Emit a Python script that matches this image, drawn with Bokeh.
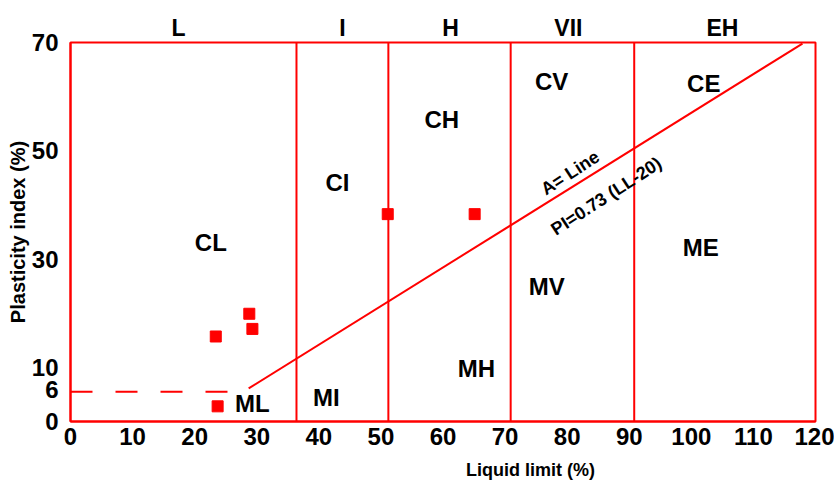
from bokeh.plotting import figure
from bokeh.models import Range1d, FixedTicker, LabelSet, ColumnDataSource, LinearAxis
from bokeh.core.properties import value
from bokeh.embed import file_html
from bokeh.resources import INLINE
import math

FONT = "Liberation Sans"
RED = "#ff0000"

# ---- data ----
x_ticks = [0, 10, 20, 30, 40, 50, 60, 70, 80, 90, 100, 110, 120]
y_ticks = [0, 6, 10, 30, 50, 70]

# sample points (liquid limit, plasticity index)
sample_ll = [23.4, 28.8, 29.3, 23.7, 51.1, 65.1]
sample_pi = [15.7, 19.9, 17.1, 2.8, 38.3, 38.3]

# boundaries between plasticity classes (liquid limit)
boundary_ll = [36.4, 51.2, 70.9, 90.8]

# A-line PI = 0.73 (LL-20)
aline_ll = [28.7, 117.9]
aline_pi = [6.1, 69.8]

# dashed line at PI ~ 6
dash_ll = [0, 25.4]
dash_pi = [5.5, 5.5]

# class labels above the chart
zone_names = ["L", "I", "H", "VII", "EH"]
zone_ll = [17.4, 43.8, 61.2, 80.2, 105.0]

# region labels
region_names = ["CL", "CI", "CH", "CV", "CE", "ML", "MI", "MH", "MV", "ME"]
region_ll = [22.6, 43.0, 59.8, 77.5, 102.0, 29.3, 41.2, 65.4, 76.7, 101.5]
region_pi = [33.0, 44.2, 55.8, 62.8, 62.4, 3.3, 4.4, 9.8, 24.9, 32.1]

# A-line annotations
aline_text = ["A= Line", "PI=0.73 (LL-20)"]
aline_text_ll = [80.5, 86.3]
aline_text_pi = [45.9, 41.6]

x_title = "Liquid limit (%)"
x_title_ll = [74.1]
y_title = "Plasticity index (%)"

# ---- figure ----
p = figure(width=834, height=482, output_backend="svg", toolbar_location=None,
           x_range=Range1d(0, 120), y_range=Range1d(0, 70),
           min_border_left=70, min_border_right=19, min_border_top=42,
           min_border_bottom=60)
p.grid.visible = False
p.background_fill_color = "white"
p.border_fill_color = "white"
p.outline_line_color = RED
p.outline_line_width = 2

def style_axis(ax, ticks, size="24px"):
    ax.ticker = FixedTicker(ticks=ticks)
    ax.major_tick_line_color = None
    ax.minor_tick_line_color = None
    ax.major_label_text_font = FONT
    ax.major_label_text_font_style = "bold"
    ax.major_label_text_font_size = size
    ax.major_label_text_color = "black"

for ax, ticks in ((p.xaxis, x_ticks), (p.yaxis, y_ticks)):
    style_axis(ax, ticks)
    ax.axis_line_color = RED
    ax.axis_line_width = 2
p.xaxis.major_label_standoff = 0
p.yaxis.major_label_standoff = 6

p.yaxis.axis_label = y_title
p.yaxis.axis_label_text_font = FONT
p.yaxis.axis_label_text_font_style = "bold"
p.yaxis.axis_label_text_font_size = "20px"
p.yaxis.axis_label_text_color = "black"
p.yaxis.axis_label_standoff = 0

# class names along the top
top_axis = LinearAxis()
style_axis(top_axis, zone_ll, "23px")
top_axis.major_label_overrides = {v: n for v, n in zip(zone_ll, zone_names)}
top_axis.axis_line_color = None
top_axis.major_label_standoff = -4
p.add_layout(top_axis, "above")

# x-axis title placed under the tick labels
title_axis = LinearAxis()
style_axis(title_axis, x_title_ll, "18px")
title_axis.major_label_overrides = {x_title_ll[0]: x_title}
title_axis.axis_line_color = None
title_axis.major_label_standoff = 6
p.add_layout(title_axis, "below")

# boundaries
p.segment(x0=boundary_ll, y0=[0] * len(boundary_ll), x1=boundary_ll, y1=[70] * len(boundary_ll),
          line_color=RED, line_width=2)
# A-line
p.line(aline_ll, aline_pi, line_color=RED, line_width=2)
# dashed
p.line(dash_ll, dash_pi, line_color=RED, line_width=2, line_dash="22 23")
# samples
p.scatter(sample_ll, sample_pi, marker="square", size=11, fill_color=RED, line_color=RED)

def labels(names, xs, ys, size, angle=0.0):
    src = ColumnDataSource(dict(x=xs, y=ys, t=names))
    ls = LabelSet(x="x", y="y", text="t", source=src, angle=angle,
                  text_font=value(FONT), text_font_style="bold",
                  text_font_size=size, text_color="black",
                  text_align="center", text_baseline="middle")
    p.add_layout(ls)

labels(region_names, region_ll, region_pi, "24px")
labels(aline_text, aline_text_ll, aline_text_pi, "18px", angle=math.radians(33))

open("out.html", "w").write(file_html(p, INLINE))
